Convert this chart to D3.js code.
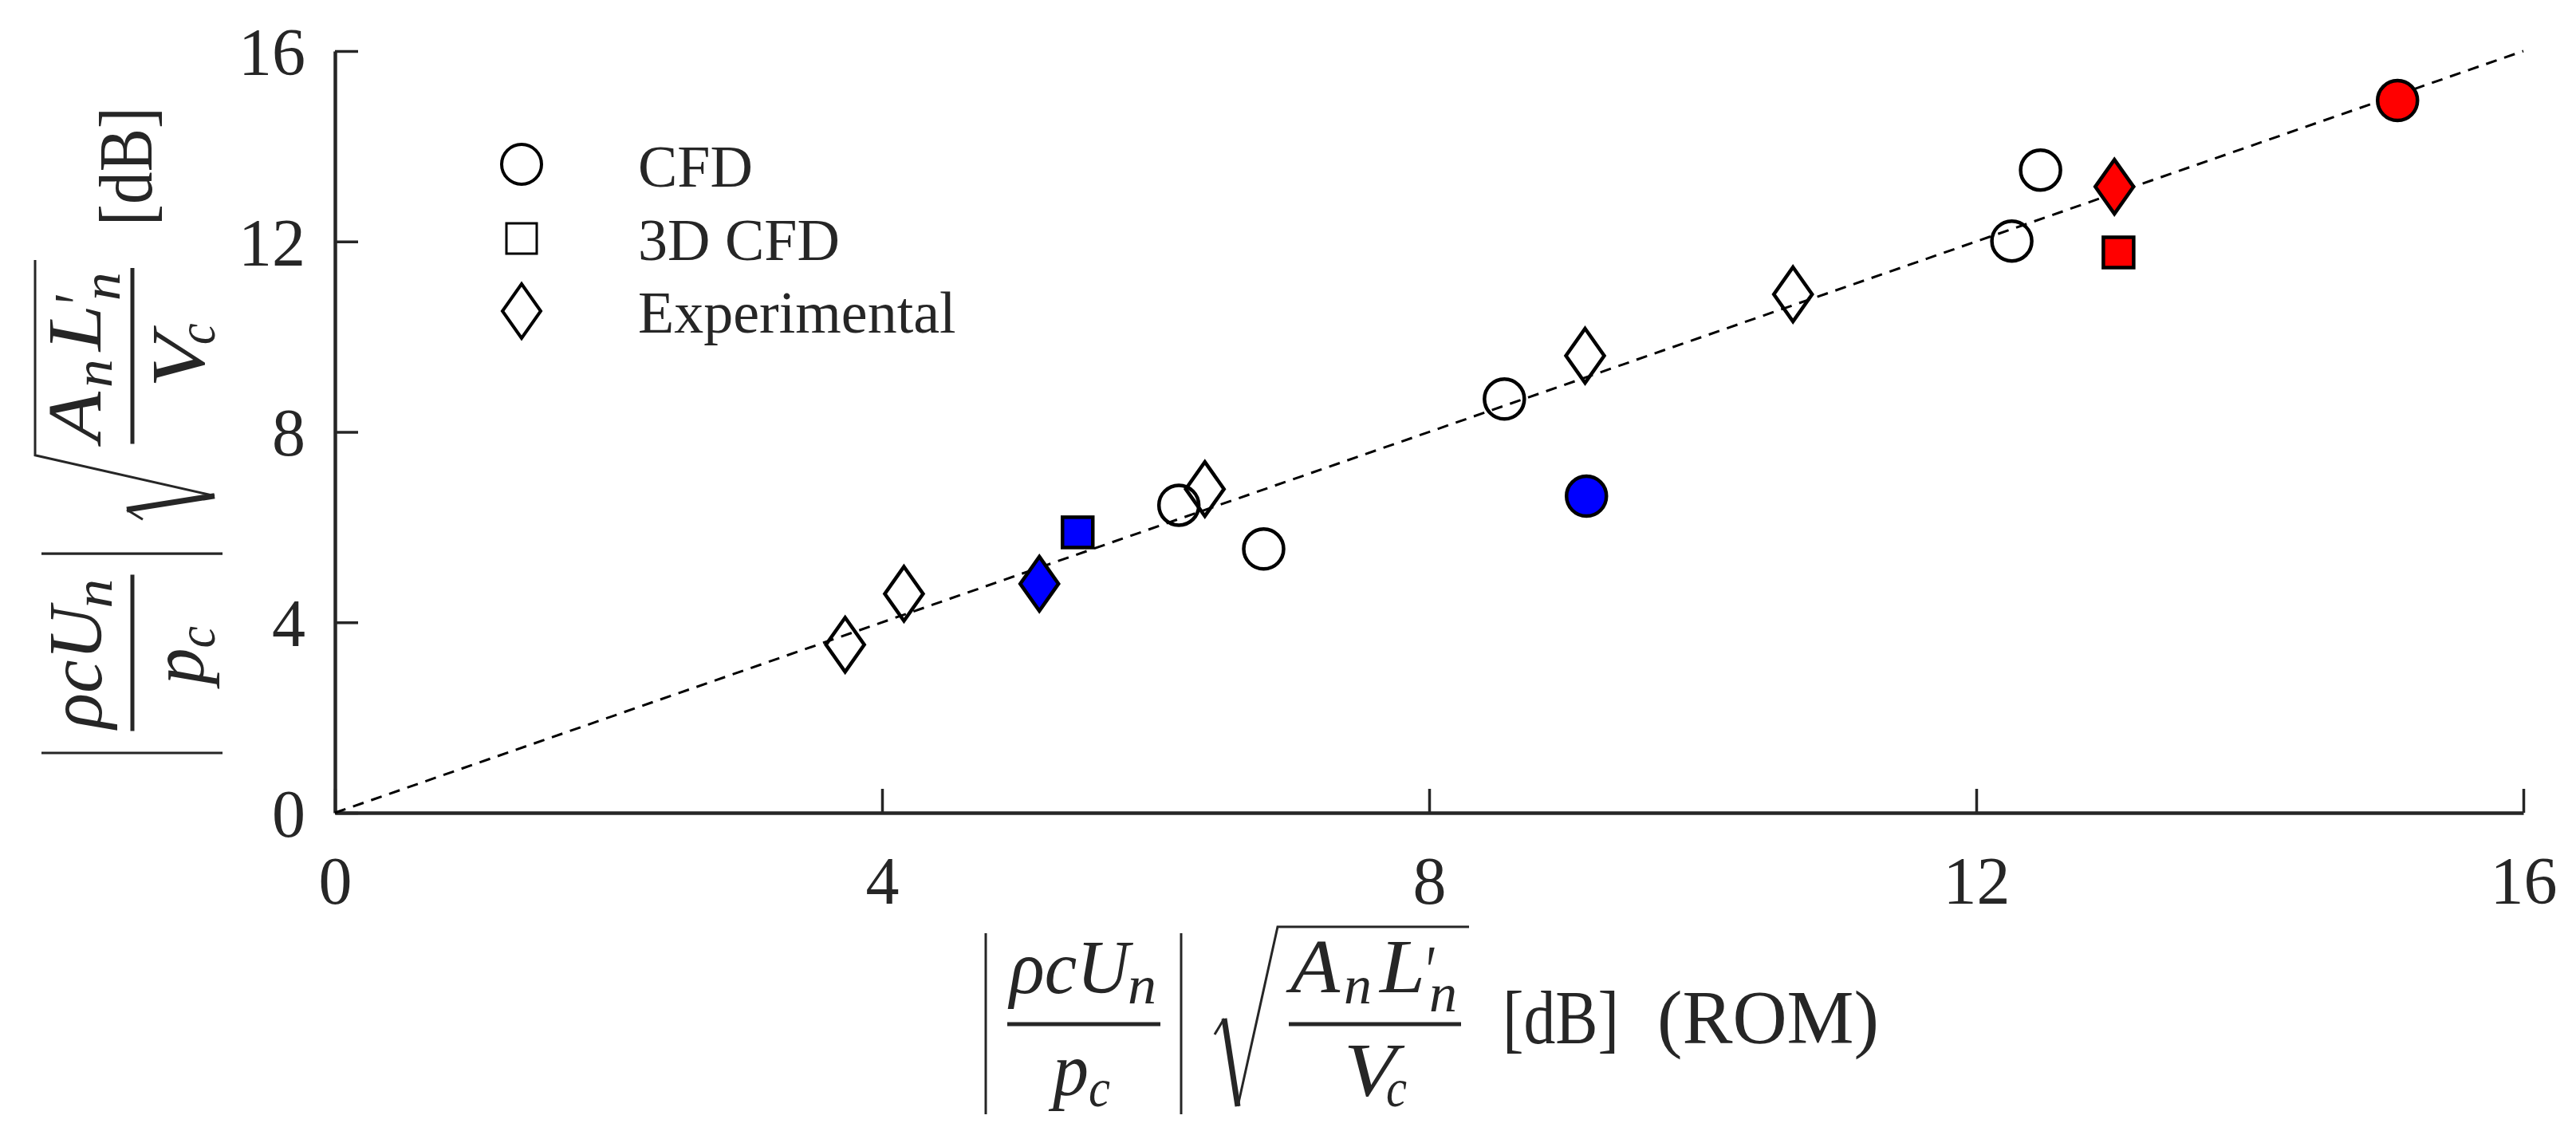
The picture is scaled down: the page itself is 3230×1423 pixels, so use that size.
<!DOCTYPE html>
<html>
<head>
<meta charset="utf-8">
<script src="https://cdn.jsdelivr.net/npm/d3@7"></script>
<style>
    body { margin: 0; background: #fff; }
    svg { display: block; }
    text { font-family: "Liberation Serif", serif; fill: #262626; }
</style>
</head>
<body>
<div id="chart"></div>
<script>
const tickValues = [0, 4, 8, 12, 16];
const refLineX = [0, 16];

const cfdX = [6.17, 6.79, 8.55, 12.26, 12.47, 9.15, 15.08];
const cfdY = [6.46, 5.54, 8.69, 12.01, 13.5, 6.65, 14.96];
const cfdFill = ["none", "none", "none", "none", "none", "blue", "red"];

const cfd3dX = [5.43, 13.04];
const cfd3dY = [5.89, 11.77];
const cfd3dFill = ["blue", "red"];

const expX = [3.73, 4.16, 6.36, 9.14, 10.66, 5.15, 13.01];
const expY = [3.53, 4.6, 6.8, 9.6, 10.89, 4.81, 13.15];
const expFill = ["none", "none", "none", "none", "none", "blue", "red"];

const legendNames = ["CFD", "3D CFD", "Experimental"];
const legendShapes = ["circle", "square", "diamond"];

const width = 3230, height = 1423;
const plotLeft = 420, plotRight = 3164, plotTop = 64, plotBottom = 1019;

const svg = d3.select("#chart").append("svg")
    .attr("width", width)
    .attr("height", height);

const x = d3.scaleLinear().domain([0, 16]).range([plotLeft, plotRight]);
const y = d3.scaleLinear().domain([0, 16]).range([plotBottom, plotTop]);

// axes, ticks point inward
const styleAxis = (g) => {
    g.select(".domain").attr("stroke", "#262626").attr("stroke-width", 4.5);
    g.selectAll(".tick line").attr("stroke", "#262626").attr("stroke-width", 3.5);
    g.selectAll(".tick text")
        .attr("fill", "#262626")
        .style("font-family", '"Liberation Serif", serif')
        .style("font-size", "84px");
};

svg.append("g")
    .attr("transform", `translate(0,${plotBottom})`)
    .call(d3.axisBottom(x).tickValues(tickValues).tickSizeInner(-30).tickSizeOuter(0).tickPadding(54))
    .call(styleAxis);

svg.append("g")
    .attr("transform", `translate(${plotLeft},0)`)
    .call(d3.axisLeft(y).tickValues(tickValues).tickSizeInner(-29).tickSizeOuter(0).tickPadding(37))
    .call(styleAxis)
    .selectAll(".tick text").attr("dy", "0.35em");

// dashed y = x line
svg.append("path")
    .attr("d", d3.line().x(d => x(d)).y(d => y(d))(refLineX))
    .attr("fill", "none")
    .attr("stroke", "#000")
    .attr("stroke-width", 3)
    .attr("stroke-dasharray", "14 10");

const drawMarker = (g, shape, cx, cy, fill, sw) => {
    let m;
    if (shape === "circle") {
        m = g.append("circle").attr("cx", cx).attr("cy", cy).attr("r", 25);
    } else if (shape === "square") {
        m = g.append("rect").attr("x", cx - 19).attr("y", cy - 19).attr("width", 38).attr("height", 38);
    } else {
        m = g.append("polygon").attr("points", `${cx},${cy - 34} ${cx + 24},${cy} ${cx},${cy + 34} ${cx - 24},${cy}`);
    }
    m.attr("fill", fill).attr("stroke", "#000").attr("stroke-width", sw);
};

const drawSeries = (shape, xs, ys, fills) => {
    const g = svg.append("g");
    xs.forEach((d, i) => drawMarker(g, shape, x(d), y(ys[i]), fills[i], 4.5));
};

drawSeries("circle", cfdX, cfdY, cfdFill);
drawSeries("square", cfd3dX, cfd3dY, cfd3dFill);
drawSeries("diamond", expX, expY, expFill);

// legend
const legendCy = [206, 299, 390];
const legendBase = [234, 326, 417];
const legend = svg.append("g");
legendNames.forEach((name, i) => {
    drawMarker(legend, legendShapes[i], 654, legendCy[i], "none", i === 1 ? 3 : 4);
    legend.append("text")
        .attr("x", 800)
        .attr("y", legendBase[i])
        .style("font-size", "74px")
        .text(name);
});

// the formula label, laid out from the left bar at the height of the fraction bars
const drawFormula = (g, withRom) => {
    const piece = (t, px, py, size, len, italic) => {
        g.append("text")
            .attr("x", px)
            .attr("y", py)
            .attr("textLength", len)
            .attr("lengthAdjust", "spacingAndGlyphs")
            .style("font-size", size + "px")
            .style("font-style", italic ? "italic" : "normal")
            .text(t);
    };
    const stroke = (pts, sw) => {
        g.append("path")
            .attr("d", d3.line()(pts))
            .attr("fill", "none")
            .attr("stroke", "#262626")
            .attr("stroke-width", sw);
    };

    stroke([[0, -114], [0, 113]], 3);
    stroke([[245, -114], [245, 113]], 3);
    stroke([[27, 0], [219, 0]], 5);
    stroke([[380, 0], [596, 0]], 5);
    stroke([[287, 13], [299, -7]], 3);
    stroke([[299, -7], [316, 103]], 7);
    stroke([[316, 103], [366, -122], [606, -122]], 3);

    piece("ρcU", 30, -39, 96, 150, true);
    piece("n", 178, -26, 68, 36, true);
    piece("p", 84, 89, 96, 45, true);
    piece("c", 129, 103, 68, 27, true);
    piece("A", 382, -40, 96, 62, true);
    piece("n", 449, -26, 68, 35, true);
    piece("L", 494, -40, 96, 57, true);
    piece("′", 548, -36, 90, 14, true);
    piece("n", 556, -16, 68, 35, true);
    piece("V", 449, 90, 96, 66, true);
    piece("c", 502, 103, 68, 26, true);
    piece("[dB]", 648, 24, 96, 146, false);
    if (withRom) piece("(ROM)", 842, 24, 96, 278, false);
};

drawFormula(svg.append("g").attr("transform", "translate(1236,1284)"), true);
drawFormula(svg.append("g").attr("transform", "translate(166,944) rotate(-90) scale(1.02,1)"), false);
</script>
</body>
</html>
